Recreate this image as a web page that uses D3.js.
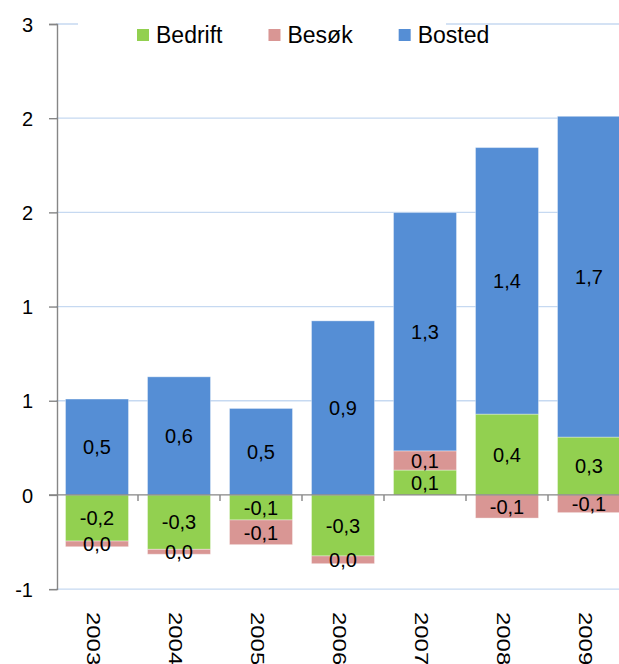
<!DOCTYPE html>
<html>
<head>
<meta charset="utf-8">
<script src="https://cdn.jsdelivr.net/npm/d3@7"></script>
<style>
  html, body { margin: 0; padding: 0; background: #fff; }
  svg { display: block; font-family: "Liberation Sans", Arial, sans-serif; }
</style>
</head>
<body>
<svg id="chart" width="619" height="664"></svg>
<script>
// ---- data ----
const categories = ["2003", "2004", "2005", "2006", "2007", "2008", "2009"];
const seriesNames = ["Bedrift", "Besøk", "Bosted"];
const bedrift = [-0.245, -0.289, -0.133, -0.324, 0.132, 0.429, 0.307];
const besok   = [-0.030, -0.026, -0.131, -0.041, 0.102, -0.123, -0.094];
const bosted  = [0.509, 0.627, 0.459, 0.924, 1.265, 1.415, 1.703];
const yTicks  = [-0.5, 0, 0.5, 1, 1.5, 2, 2.5];
const colors  = ["#92D050", "#D99694", "#558ED5"];

// ---- layout ----
const W = 619, H = 664;
const plot = { left: 56, right: 630, top: 24, bottom: 589.1 };

const svg = d3.select("#chart");
const rows = categories.map((c, i) => ({ cat: c, "Bedrift": bedrift[i], "Besøk": besok[i], "Bosted": bosted[i] }));

const x = d3.scaleBand().domain(categories).range([plot.left, plot.right]).paddingInner(0.232).paddingOuter(0.116);
const y = d3.scaleLinear().domain([-0.5, 2.5]).range([plot.bottom, plot.top]);

const loc = d3.formatLocale({ decimal: ",", thousands: " ", grouping: [3], currency: ["", ""], minus: "-" });
const fmtVal = loc.format(".1f");
const fmtTick = loc.format(".0f");

// gridlines
svg.append("g").selectAll("line").data(yTicks.filter(t => t !== 0)).join("line")
  .attr("x1", plot.left).attr("x2", W)
  .attr("y1", d => y(d)).attr("y2", d => y(d))
  .attr("stroke", "#C6D9F1").attr("stroke-width", 1.3);

// stacked bars
const stack = d3.stack().keys(seriesNames).offset(d3.stackOffsetDiverging);
const stacked = stack(rows);

const gBars = svg.append("g");
stacked.forEach((s, si) => {
  gBars.append("g").selectAll("rect").data(s).join("rect")
    .attr("x", d => x(d.data.cat))
    .attr("width", x.bandwidth())
    .attr("y", d => y(Math.max(d[0], d[1])))
    .attr("height", d => Math.abs(y(d[0]) - y(d[1])))
    .attr("fill", colors[si])
    .attr("stroke", "rgba(255,255,255,0.35)")
    .attr("stroke-width", 1);
});

// y axis
const yAxis = d3.axisLeft(y).tickValues(yTicks).tickFormat(fmtTick).tickSize(8).tickPadding(16);
const gy = svg.append("g").attr("transform", `translate(${plot.left + 1},0)`).call(yAxis);
gy.select(".domain").attr("stroke", "#868686").attr("stroke-width", 1.4);
gy.selectAll(".tick line").attr("stroke", "#868686").attr("stroke-width", 1.4);
gy.selectAll(".tick text").attr("font-size", 20).attr("fill", "#000")
  .attr("font-family", '"Liberation Sans", Arial, sans-serif').attr("dy", "0.36em");

// x axis line at zero with ticks at band boundaries
const zeroY = y(0);
svg.append("line").attr("x1", plot.left - 7).attr("x2", W)
  .attr("y1", zeroY).attr("y2", zeroY).attr("stroke", "#868686").attr("stroke-width", 1.4);
const step = x.step();
const boundaries = categories.map(c => x(c) + x.bandwidth() + (step - x.bandwidth()) / 2);
svg.append("g").selectAll("line").data(boundaries).join("line")
  .attr("x1", d => d).attr("x2", d => d)
  .attr("y1", zeroY).attr("y2", zeroY + 6)
  .attr("stroke", "#868686").attr("stroke-width", 1.4);

// x labels (rotated)
svg.append("g").selectAll("text").data(categories).join("text")
  .attr("transform", d => `translate(${x(d) + x.bandwidth() / 2 - 4},612) rotate(90) scale(1.33,1)`)
  .attr("dy", "0.36em")
  .attr("font-size", 18).attr("fill", "#000")
  .text(d => d);

// data labels
const gLab = svg.append("g");
stacked.forEach((s, si) => {
  gLab.append("g").selectAll("text").data(s).join("text")
    .attr("x", d => x(d.data.cat) + x.bandwidth() / 2)
    .attr("y", d => y((d[0] + d[1]) / 2))
    .attr("dy", "0.36em")
    .attr("text-anchor", "middle")
    .attr("font-size", 20).attr("fill", "#000")
    .text(d => fmtVal(d.data[s.key]));
});

// legend
const leg = svg.append("g");
leg.append("rect").attr("x", 78).attr("y", 12).attr("width", 368).attr("height", 42).attr("fill", "#fff");
let lx = 137;
seriesNames.forEach((name, i) => {
  leg.append("rect").attr("x", lx).attr("y", 29).attr("width", 12).attr("height", 12).attr("fill", colors[i]);
  const t = leg.append("text").attr("x", lx + 19).attr("y", 43)
    .attr("font-size", 23).attr("fill", "#000").text(name);
  lx += 19 + t.node().getComputedTextLength() + 46;
});
</script>
</body>
</html>
